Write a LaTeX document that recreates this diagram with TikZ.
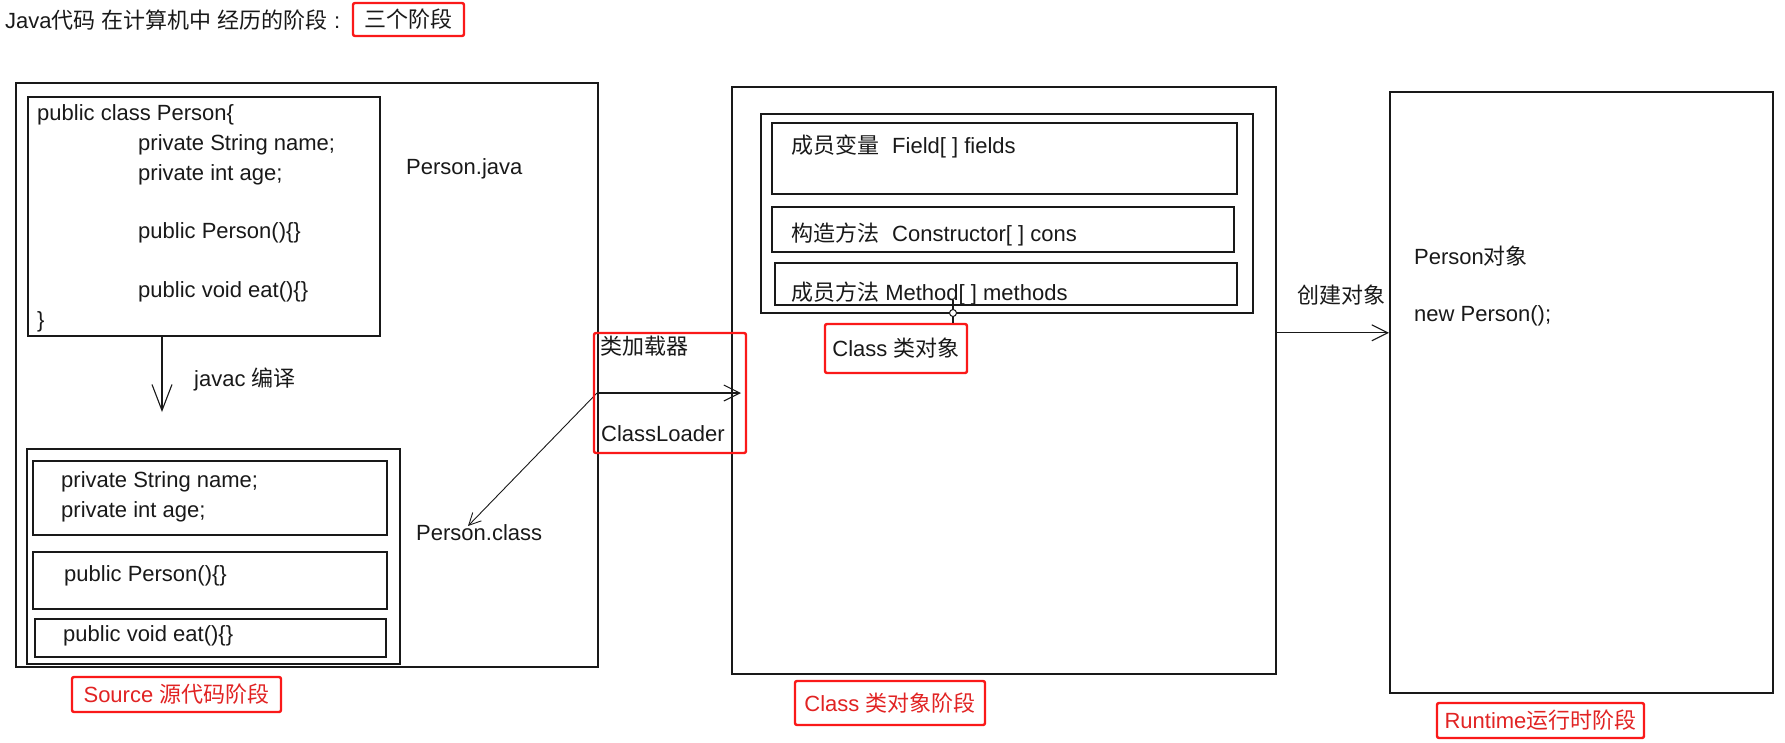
\documentclass[tikz,border=0pt]{standalone}
\usepackage{fontspec}
\setmainfont{Liberation Sans}
\newfontfamily\cjk{Noto Sans CJK SC}
\usetikzlibrary{arrows.meta,positioning}
\definecolor{markred}{RGB}{250,25,25}
\definecolor{tagred}{RGB}{225,35,35}
\definecolor{ink}{RGB}{25,25,25}
\newcommand\zh[1]{{\cjk #1}}
\tikzset{
  box/.style={draw=ink,line width=1.6pt,anchor=north west,inner sep=0pt},
  txt/.style={anchor=west,inner sep=0pt,text=ink},
  tag/.style={draw=markred,line width=2.4pt,rounded corners=2pt,inner sep=0pt,text=tagred},
  arr/.style={draw=ink,line width=1.1pt,-{Straight Barb[length=16pt,width=16pt]}}
}
\begin{document}
\begin{tikzpicture}[x=1pt,y=-1pt,every node/.style={font=\fontsize{22}{26}\selectfont}]
\useasboundingbox (0,0) rectangle (1785,742);

% title
\node[txt] (title) at (5,20) {Java\zh{代码} \zh{在计算机中} \zh{经历的阶段} :};
\node[tag,text=ink,minimum width=111pt,minimum height=33pt] (three) at (408.5,19.5) {\zh{三个阶段}};

% source stage
\node[box,minimum width=582pt,minimum height=584pt] (src) at (15,82) {};
\node[box,minimum width=352pt,minimum height=239pt] (javafile) at (27,96) {};
\node[txt] (j1) at (37,115) {public class Person\{};
\node[txt] (j2) at (138,145) {private String name;};
\node[txt] (j3) at (138,175) {private int age;};
\node[txt] (j4) at (138,233) {public Person()\{\}};
\node[txt] (j5) at (138,292) {public void eat()\{\}};
\node[txt] (j6) at (37,322) {\}};
\node[txt] (srcname) at (406,169) {Person.java};

\coordinate (javacend) at (162,412);
\draw[arr,-{Straight Barb[length=26pt,width=20pt]}] (javafile.south -| javacend) -- (javacend);
\node[txt] (javac) at (194,379) {javac \zh{编译}};

\node[box,minimum width=373pt,minimum height=215pt] (classfile) at (26,448) {};
\node[box,minimum width=354pt,minimum height=74pt] (fieldpart) at (32,460) {};
\node[box,minimum width=354pt,minimum height=57pt] (ctorpart) at (32,551) {};
\node[box,minimum width=351pt,minimum height=38pt] (methodpart) at (34,618) {};
\node[txt] (b1) at (61,482) {private String name;};
\node[txt] (b2) at (61,512) {private int age;};
\node[txt] (b3) at (64,576) {public Person()\{\}};
\node[txt] (b4) at (63,636) {public void eat()\{\}};
\node[txt] (clsname) at (416,533) {Person.class};

\node[tag,minimum width=209pt,minimum height=35pt] (srctag) at (176.5,694.5) {Source \zh{源代码阶段}};

% class stage
\node[box,minimum width=544pt,minimum height=587pt] (clsobj) at (731,86) {};
\node[box,minimum width=492pt,minimum height=199pt] (members) at (760,113) {};
\node[box,minimum width=465pt,minimum height=71pt] (fields) at (771,122) {};
\node[box,minimum width=462pt,minimum height=45pt] (ctors) at (771,206) {};
\node[box,minimum width=462pt,minimum height=42pt] (methods) at (774,262) {};
\node[txt] (m1) at (791,146) {\zh{成员变量}\hspace{13pt}Field[ ] fields};
\node[txt] (m2) at (791,234) {\zh{构造方法}\hspace{13pt}Constructor[ ] cons};
\node[txt] (m3) at (791,293) {\zh{成员方法} Method[ ] methods};

\node[tag,text=ink,minimum width=142pt,minimum height=49pt] (clsobjtag) at (896,348.5) {Class \zh{类对象}};
\coordinate (hook) at (953,313);
\draw[ink,line width=1.1pt] ([yshift=6pt]methods.south -| hook) -- (clsobjtag.north -| hook);
\draw[ink,line width=1pt,fill=white] (hook) circle (3.5pt);

\node[tag,minimum width=190pt,minimum height=44pt] (clstag) at (890,703) {Class \zh{类对象阶段}};

% class loader
\coordinate (loadstart) at (597,393);
\coordinate (classpt) at (468,526);
\draw[arr] (loadstart) -- (741,393);
\draw[arr,line width=0.9pt,-{Straight Barb[length=12pt,width=12pt]}] (loadstart) -- (classpt);
\node[tag,minimum width=152pt,minimum height=120pt] (loader) at (670,393) {};
\node[txt] (loadzh) at (600,346) {\zh{类加载器}};
\node[txt] (loaden) at (601,434) {ClassLoader};

% runtime stage
\node[box,minimum width=383pt,minimum height=601pt] (runtime) at (1389,91) {};
\draw[arr] ([yshift=47.5pt]clsobj.east) -- ([yshift=47.5pt]clsobj.east -| runtime.west);
\node[txt] (create) at (1297,295) {\zh{创建对象}};
\node[txt] (pobj) at (1414,256) {Person\zh{对象}};
\node[txt] (newp) at (1414,316) {new Person();};

\node[tag,minimum width=207pt,minimum height=35pt] (rttag) at (1540.5,720.5) {Runtime\zh{运行时阶段}};
\end{tikzpicture}
\end{document}
